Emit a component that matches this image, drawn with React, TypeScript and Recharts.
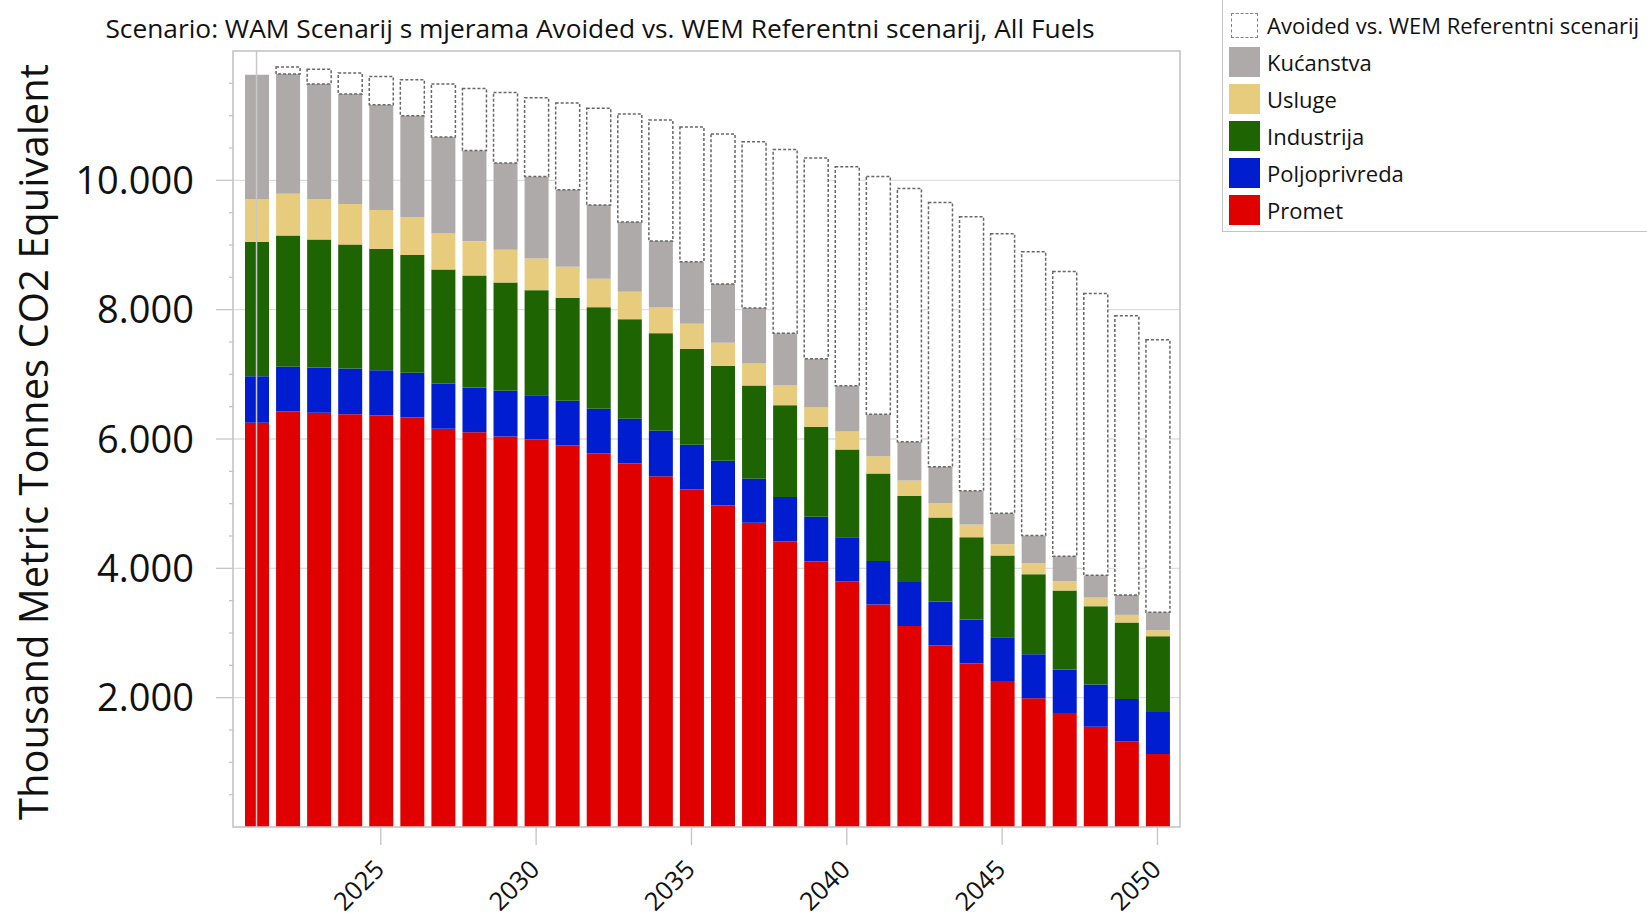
import React from 'react';
import { BarChart, Bar, XAxis, YAxis, CartesianGrid, ReferenceLine } from 'recharts';

const years = [2021, 2022, 2023, 2024, 2025, 2026, 2027, 2028, 2029, 2030, 2031, 2032, 2033, 2034, 2035, 2036, 2037, 2038, 2039, 2040, 2041, 2042, 2043, 2044, 2045, 2046, 2047, 2048, 2049, 2050];

const promet = [6250, 6425, 6405, 6384, 6363, 6332, 6157, 6106, 6038, 5992, 5899, 5775, 5621, 5425, 5218, 4971, 4703, 4414, 4105, 3801, 3439, 3109, 2805, 2527, 2259, 1991, 1764, 1552, 1325, 1129];
const poljoprivreda = [722, 691, 701, 706, 702, 691, 696, 691, 707, 686, 691, 691, 691, 701, 692, 691, 681, 691, 691, 680, 676, 681, 681, 680, 675, 680, 670, 650, 655, 650];
const industrija = [2078, 2032, 1980, 1918, 1877, 1821, 1769, 1732, 1676, 1624, 1594, 1573, 1541, 1511, 1485, 1470, 1443, 1418, 1392, 1356, 1351, 1331, 1299, 1274, 1264, 1238, 1222, 1212, 1181, 1171];
const usluge = [661, 645, 625, 625, 598, 588, 557, 531, 505, 490, 479, 439, 423, 402, 386, 355, 341, 310, 299, 279, 268, 237, 227, 196, 175, 170, 145, 134, 119, 93];
const kucanstva = [1922, 1851, 1778, 1702, 1629, 1567, 1490, 1403, 1341, 1269, 1191, 1139, 1078, 1021, 960, 908, 856, 804, 753, 706, 650, 600, 557, 521, 480, 428, 386, 345, 309, 278];
const avoided = [0, 108, 227, 325, 438, 557, 820, 959, 1093, 1217, 1341, 1496, 1671, 1872, 2083, 2321, 2573, 2841, 3104, 3388, 3677, 3917, 4089, 4239, 4321, 4388, 4404, 4358, 4316, 4213];

const xTicks = [2025, 2030, 2035, 2040, 2045, 2050];
const yTicks = [0, 500, 1000, 1500, 2000, 2500, 3000, 3500, 4000, 4500, 5000, 5500, 6000, 6500, 7000, 7500, 8000, 8500, 9000, 9500, 10000, 10500, 11000, 11500, 12000];
const gridValues = [2000, 4000, 6000, 8000, 10000];

const title = 'Scenario: WAM Scenarij s mjerama Avoided vs. WEM Referentni scenarij, All Fuels';
const yLabel = 'Thousand Metric Tonnes CO2 Equivalent';

// stack order, bottom first
const series = [
  { key: 'promet', name: 'Promet', color: '#e10000' },
  { key: 'poljoprivreda', name: 'Poljoprivreda', color: '#001ecf' },
  { key: 'industrija', name: 'Industrija', color: '#1f6402' },
  { key: 'usluge', name: 'Usluge', color: '#e8cc7e' },
  { key: 'kucanstva', name: 'Kućanstva', color: '#aeaaaa' },
];

const chartData = years.map((year, i) => ({
  year,
  promet: promet[i],
  poljoprivreda: poljoprivreda[i],
  industrija: industrija[i],
  usluge: usluge[i],
  kucanstva: kucanstva[i],
  avoided: avoided[i],
}));

const FONT = '"Open Sans", "Noto Sans", sans-serif';
const PLOT_LEFT = 233;
const PLOT_TOP = 51;
const PLOT_RIGHT = 1180;
const PLOT_BOTTOM = 827;
const AXIS_GREY = '#c4c4c4';

const fmt = (v: number) => String(v).replace(/\B(?=(\d{3})+(?!\d))/g, '.');

const YTick = (props: any) => {
  const { y, payload } = props;
  const v = payload.value;
  if (v <= 0 || v >= 12000) return <g />;
  const major = v % 2000 === 0;
  return (
    <g>
      <line x1={PLOT_LEFT - (major ? 17 : 4)} x2={PLOT_LEFT} y1={y} y2={y} stroke={AXIS_GREY} strokeWidth={1.3} />
      {major && (
        <text x={194} y={y} dy="0.36em" textAnchor="end" fontSize={38} fill="#111" fontFamily={FONT}>
          {fmt(v)}
        </text>
      )}
    </g>
  );
};

const XTick = (props: any) => {
  const { x, y, payload } = props;
  const ax = x + 5;
  const ay = y + 24;
  return (
    <text x={ax} y={ay} transform={`rotate(-45, ${ax}, ${ay})`} textAnchor="end" fontSize={25.5} fill="#111" fontFamily={FONT}>
      {payload.value}
    </text>
  );
};

const legendItems = [
  { name: 'Avoided vs. WEM Referentni scenarij', color: null },
  ...series.slice().reverse().map(s => ({ name: s.name, color: s.color })),
];

const App: React.FC = () => {
  return (
    <div style={{ position: 'absolute', left: 0, top: 0, width: 1647, height: 918, overflow: 'hidden', background: '#fff', fontFamily: FONT }}>
      <BarChart
        width={1647}
        height={918}
        data={chartData}
        margin={{ top: PLOT_TOP, right: 1647 - PLOT_RIGHT, bottom: 0, left: 0 }}
      >
        <CartesianGrid vertical={false} horizontalValues={gridValues} stroke="#dedede" strokeWidth={1.3} />
        <XAxis
          dataKey="year"
          ticks={xTicks}
          interval={0}
          height={918 - PLOT_BOTTOM}
          padding={{ left: 8, right: 7 }}
          axisLine={false}
          tickSize={18}
          tickLine={{ stroke: AXIS_GREY, strokeWidth: 1.3 }}
          tick={<XTick />}
        />
        <YAxis
          width={PLOT_LEFT}
          domain={[0, 12000]}
          ticks={yTicks}
          interval={0}
          axisLine={false}
          tickLine={false}
          tick={<YTick />}
        />
        {series.map(s => (
          <Bar key={s.key} dataKey={s.key} name={s.name} stackId="a" fill={s.color} barSize={24} isAnimationActive={false} />
        ))}
        <Bar
          dataKey="avoided"
          name="Avoided vs. WEM Referentni scenarij"
          stackId="a"
          fill="#ffffff"
          stroke="#666666"
          strokeWidth={1.5}
          strokeDasharray="3 2"
          barSize={24}
          isAnimationActive={false}
        />
        <ReferenceLine x={2021} stroke="#c8c8c8" strokeWidth={1.5} />
      </BarChart>

      <svg width={1647} height={918} style={{ position: 'absolute', left: 0, top: 0, pointerEvents: 'none' }}>
        <rect x={PLOT_LEFT} y={PLOT_TOP} width={PLOT_RIGHT - PLOT_LEFT} height={PLOT_BOTTOM - PLOT_TOP} fill="none" stroke={AXIS_GREY} strokeWidth={1.6} />
        <text x={600} y={38} textAnchor="middle" fontSize={26.3} fill="#111" fontFamily={FONT}>{title}</text>
        <text x={48} y={442} transform="rotate(-90, 48, 442)" textAnchor="middle" fontSize={40} fill="#111" fontFamily={FONT}>{yLabel}</text>
      </svg>

      <div style={{ position: 'absolute', left: 1222, top: -1, width: 440, height: 233, border: `1.5px solid ${AXIS_GREY}`, boxSizing: 'border-box' }}>
        {legendItems.map((item, i) => (
          <div key={item.name} style={{ position: 'absolute', left: 6, top: 10 + i * 37, height: 30, display: 'flex', alignItems: 'center' }}>
            {item.color ? (
              <div style={{ width: 31, height: 30, background: item.color }} />
            ) : (
              <div style={{ width: 31, height: 30, display: 'flex', alignItems: 'center', justifyContent: 'center' }}>
                <div style={{ width: 27, height: 25, border: '1.3px dashed #808080', boxSizing: 'border-box' }} />
              </div>
            )}
            <span style={{ marginLeft: 7, fontSize: 22, color: '#111', whiteSpace: 'nowrap' }}>{item.name}</span>
          </div>
        ))}
      </div>
    </div>
  );
};

export default App;
